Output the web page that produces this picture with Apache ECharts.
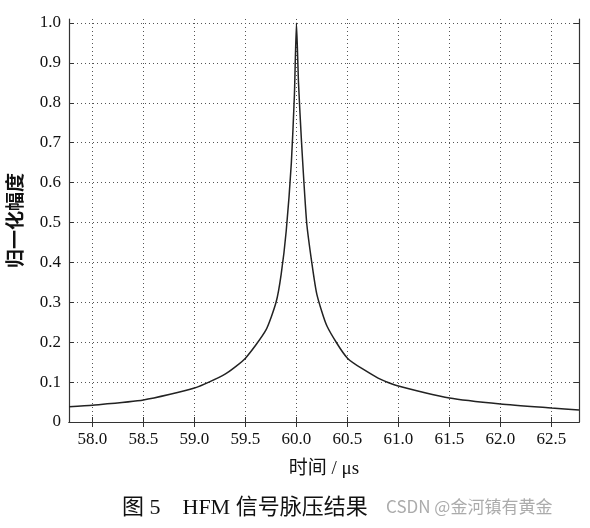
<!DOCTYPE html>
<html><head><meta charset="utf-8">
<script src="https://cdn.jsdelivr.net/npm/echarts@6/dist/echarts.min.js"></script>
<style>html,body{margin:0;padding:0;background:#fff}#main{width:590px;height:528px}</style>
</head><body><div id="main"></div>
<script>
const timeUs = [57.77, 58.0, 58.5, 59.0, 59.3, 59.5, 59.7, 59.8, 59.85, 59.9, 59.95, 59.98, 60.0, 60.02, 60.05, 60.1, 60.15, 60.2, 60.3, 60.5, 60.8, 61.0, 61.5, 62.0, 62.5, 62.77];
const amplitude = [0.038, 0.042, 0.055, 0.085, 0.12, 0.16, 0.23, 0.3, 0.37, 0.48, 0.65, 0.82, 1.0, 0.85, 0.7, 0.5, 0.4, 0.32, 0.24, 0.16, 0.11, 0.09, 0.06, 0.045, 0.035, 0.03];
const xTicks = [58, 58.5, 59, 59.5, 60, 60.5, 61, 61.5, 62, 62.5];
const yTicks = [0, 0.1, 0.2, 0.3, 0.4, 0.5, 0.6, 0.7, 0.8, 0.9, 1.0];

const serif = '"Liberation Serif", "Noto Sans CJK SC", serif';
const chart = echarts.init(document.getElementById('main'));
const tick = { show: true, inside: true, length: 5, lineStyle: { color: '#333' } };
const line = { show: true, lineStyle: { color: '#333', width: 1.2 } };
const grid = { show: true, lineStyle: { color: '#555', type: [1, 3], width: 1 } };
chart.setOption({
  animation: false,
  grid: { left: 68, right: 11, top: 19, bottom: 106 },
  xAxis: [{
    type: 'value', min: 57.77, max: 62.77,
    axisLine: line, splitLine: Object.assign({}, grid, { customValues: xTicks }),
    axisLabel: { color: '#111', fontFamily: serif, fontSize: 17, margin: 9,
      formatter: v => v.toFixed(1), customValues: xTicks },
    axisTick: Object.assign({}, tick, { customValues: xTicks }),
    name: '时间 / μs', nameLocation: 'middle', nameGap: 38,
    nameTextStyle: { color: '#111', fontFamily: serif, fontSize: 19 }
  }, {
    type: 'value', position: 'top', min: 57.77, max: 62.77,
    axisLine: line, axisLabel: { show: false }, splitLine: { show: false },
    axisTick: Object.assign({}, tick, { customValues: xTicks })
  }],
  yAxis: [{
    type: 'value', min: 0, max: 1.01,
    axisLine: line, splitLine: Object.assign({}, grid, { showMinLine: false }),
    axisTick: Object.assign({}, tick, { customValues: yTicks }),
    axisLabel: { color: '#111', fontFamily: serif, fontSize: 17, margin: 8, customValues: yTicks,
      formatter: v => v === 0 ? '0' : v.toFixed(1) },
    name: '归一化幅度', nameLocation: 'middle', nameGap: 42,
    nameTextStyle: { color: '#111', fontFamily: serif, fontSize: 19, fontWeight: 'bold' }
  }, {
    type: 'value', position: 'right', min: 0, max: 1.01,
    axisLine: line, axisLabel: { show: false }, splitLine: { show: false },
    axisTick: Object.assign({}, tick, { customValues: yTicks })
  }],
  series: [{
    type: 'line', data: timeUs.map((t, i) => [t, amplitude[i]]),
    smooth: 0.2, symbol: 'none', lineStyle: { color: '#222', width: 1.5 }
  }],
  graphic: [
    { type: 'text', left: 122, top: 497, style: { text: '图 5    HFM 信号脉压结果', font: '22px ' + serif, fill: '#111' } },
    { type: 'text', left: 386, top: 498, style: { text: 'CSDN @金河镇有黄金', font: '17px "Noto Sans CJK SC"', fill: 'rgba(150,150,150,0.8)' } }
  ]
});
</script></body></html>
